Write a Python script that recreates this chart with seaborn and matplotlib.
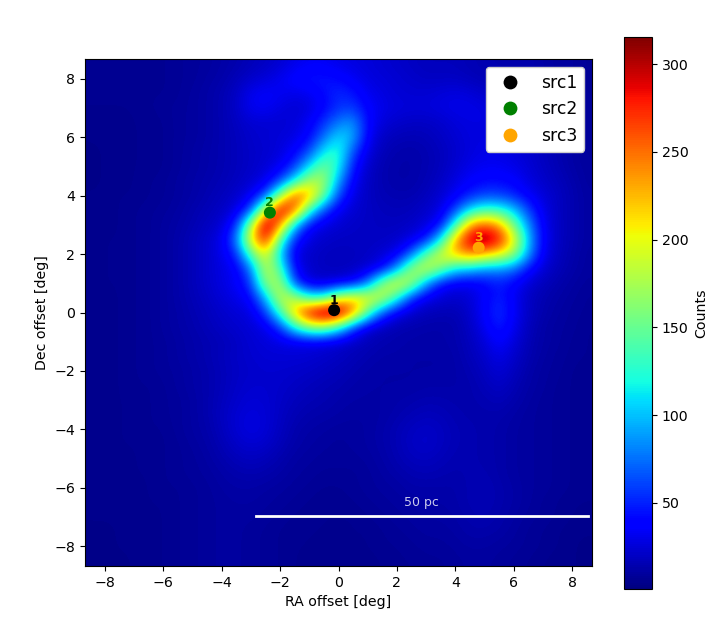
import numpy as np
import pandas as pd
import matplotlib
matplotlib.use("Agg")
import matplotlib.pyplot as plt
import seaborn as sns

# Counts on a 0.5 deg grid; rows run Dec +8.5 .. -8.5, columns RA -8.5 .. +8.5
counts_rows = [
 [6,6,6,6,6,7,8,9,10,12,14,17,20,24,30,34,34,30,28,26,24,22,20,18,18,18,16,15,14,14,14,12,10,10,8],
 [6,6,6,6,6,7,8,9,11,13,17,22,26,32,40,46,46,42,34,28,26,24,22,20,20,20,18,16,16,16,15,13,11,10,8],
 [6,6,6,6,7,7,8,10,12,15,20,32,36,33,30,32,42,52,46,32,28,25,24,24,26,28,26,22,20,18,16,14,12,10,8],
 [6,6,6,6,7,8,9,10,12,15,21,32,34,28,24,27,38,55,58,38,30,27,26,26,28,30,30,28,25,22,19,17,14,11,9],
 [5,5,5,6,6,7,9,10,12,15,19,24,24,24,26,34,55,78,88,40,26,22,20,20,22,26,28,28,26,23,20,17,13,10,9],
 [5,5,5,6,6,7,9,10,12,15,18,22,24,26,28,40,75,110,95,35,20,17,16,17,20,24,27,28,27,25,22,18,15,11,9],
 [4,5,5,6,6,7,9,11,13,15,18,21,23,26,38,62,115,130,62,28,17,14,13,15,18,22,27,30,30,27,23,19,15,12,9],
 [4,5,5,6,6,7,9,11,13,15,18,21,25,32,55,110,155,120,45,22,15,13,13,15,18,24,30,33,33,30,25,20,16,12,10],
 [4,5,5,6,7,8,10,12,14,16,19,23,30,58,115,180,175,90,35,20,15,13,13,16,20,28,36,42,42,38,28,22,18,14,10],
 [5,5,6,6,7,8,10,12,15,18,22,32,62,165,265,235,150,60,28,20,16,15,15,18,24,34,50,60,60,50,36,26,20,15,11],
 [5,5,6,7,8,9,11,14,17,20,28,60,195,305,260,125,60,32,24,20,18,17,18,22,28,60,110,135,130,105,60,30,20,15,11],
 [5,5,6,7,8,10,12,15,19,24,50,170,320,245,100,40,28,24,21,20,19,19,21,26,40,125,235,260,235,155,85,34,20,15,11],
 [5,6,6,7,8,10,13,17,22,30,75,205,290,140,48,27,22,20,20,20,20,22,28,45,110,230,300,320,290,205,100,36,20,15,11],
 [5,6,6,7,8,10,13,17,22,30,50,140,205,105,28,22,19,18,19,20,24,32,70,145,195,225,245,225,205,170,90,32,19,14,10],
 [5,6,6,7,8,10,13,17,22,28,35,75,190,140,38,22,19,18,19,24,36,85,170,195,160,110,100,85,85,75,42,25,17,13,10],
 [5,6,6,7,8,10,13,17,22,28,34,55,165,180,60,26,24,28,36,75,165,205,175,90,42,32,32,38,48,38,25,18,14,11,9],
 [5,5,6,7,8,10,13,16,20,25,30,38,95,190,180,125,125,190,215,205,190,125,52,30,25,22,25,36,50,34,20,15,12,10,8],
 [5,5,6,7,8,10,12,15,18,22,25,28,55,130,225,300,335,325,250,145,65,32,22,18,16,16,22,38,55,36,20,14,11,9,8],
 [5,5,6,7,8,10,12,14,17,20,23,25,30,55,120,165,170,125,60,25,18,15,14,13,13,14,20,32,50,32,18,12,10,9,7],
 [5,5,6,7,8,9,11,13,15,17,20,24,26,28,30,30,28,24,20,17,15,14,13,13,13,14,18,26,38,27,16,12,10,8,7],
 [5,5,6,7,8,9,11,13,15,18,21,23,25,25,25,24,22,20,17,15,13,13,12,12,12,13,17,22,30,22,15,11,9,8,7],
 [5,5,6,7,8,9,10,12,14,17,20,22,23,23,22,21,19,17,15,13,12,12,12,12,12,13,15,19,25,19,13,10,9,7,6],
 [5,5,6,7,7,8,10,12,14,17,21,23,23,22,20,18,16,15,13,12,12,12,12,13,13,13,14,17,21,16,12,10,8,7,6],
 [5,5,6,6,7,8,9,11,14,18,22,25,24,21,18,16,15,13,12,12,12,13,14,15,15,14,14,15,17,14,11,9,8,7,6],
 [5,5,6,6,7,8,9,11,14,19,24,27,25,20,16,14,13,12,11,11,12,14,16,18,17,15,14,14,14,12,10,9,8,7,6],
 [5,5,6,6,7,7,9,11,13,18,24,28,25,19,14,12,11,10,10,11,13,16,19,21,19,16,15,14,13,11,10,9,8,7,6],
 [5,5,6,6,6,7,8,10,12,16,21,24,22,17,13,11,10,9,10,11,13,16,20,22,19,16,15,14,13,11,10,9,8,7,6],
 [5,5,5,6,6,7,8,9,11,14,17,19,17,14,11,10,9,9,9,10,12,15,18,19,17,15,15,14,13,11,10,9,8,7,6],
 [5,5,5,6,6,7,8,9,10,12,14,15,14,12,10,9,8,8,8,9,11,13,15,16,15,14,15,15,13,11,10,9,8,7,6],
 [5,5,5,5,6,7,7,8,9,11,12,12,11,10,9,8,7,7,8,9,10,11,13,13,13,13,15,16,14,12,10,9,8,7,6],
 [5,5,5,5,6,6,7,8,9,10,11,11,10,9,8,7,6,6,7,8,9,10,11,12,12,13,15,16,14,12,10,8,7,6,6],
 [5,5,5,5,5,6,7,8,9,10,10,10,9,8,7,6,6,6,6,7,8,9,10,11,11,12,14,15,13,11,9,8,7,6,5],
 [4,4,5,5,5,6,7,8,9,10,10,9,8,7,6,6,6,5,6,6,7,8,9,10,10,11,13,13,12,10,8,7,6,5,5],
 [4,4,5,5,5,6,7,8,9,10,10,9,8,7,6,6,5,5,5,6,7,7,8,9,9,10,11,11,10,9,8,7,6,5,4],
 [4,4,4,5,5,6,7,8,9,10,10,9,8,7,6,5,5,5,5,5,6,7,7,8,8,9,10,10,9,8,7,6,5,5,4],
]
source_names = ["src1", "src2", "src3"]
source_ra = [-0.15, -2.35, 4.8]
source_dec = [0.08, 3.42, 2.22]
source_labels = ["1", "2", "3"]
source_colors = ["black", "green", "orange"]
tick_values = [-8, -6, -4, -2, 0, 2, 4, 6, 8]
cbar_ticks = [50, 100, 150, 200, 250, 300]
scale_ra = [-2.82, 8.55]
scale_dec = [-6.97, -6.97]

plt.rcParams["font.size"] = 10.2
W, H = 723, 637
fig = plt.figure(figsize=(W / 100, H / 100), dpi=100)
ax = fig.add_axes([85 / W, 1 - 566 / H, 507 / W, 507 / H])
cax = fig.add_axes([624 / W, 1 - 589 / H, 28 / W, 552 / H])

grid = np.array(counts_rows, dtype=float)
im = ax.imshow(grid, cmap="jet", vmin=1, vmax=315.5, extent=(-8.75, 8.75, -8.75, 8.75),
               interpolation="bicubic", origin="upper", aspect="auto")

df = pd.DataFrame({"ra": source_ra, "dec": source_dec, "source": source_names})
sns.scatterplot(data=df, x="ra", y="dec", hue="source", palette=dict(zip(source_names, source_colors)),
                s=75, linewidth=0, ax=ax, zorder=3)
for r, d, t, c in zip(source_ra, source_dec, source_labels, source_colors):
    ax.text(r, d + 0.12, t, color=c, fontsize=9, fontweight="bold", ha="center", va="bottom", zorder=4)

sns.lineplot(x=scale_ra, y=scale_dec, color="white", linewidth=2, ax=ax, legend=False, zorder=3)
ax.text(2.85, -6.72, "50 pc", color="white", alpha=0.8, fontsize=9, ha="center", va="bottom")

ax.set_xlim(-8.68, 8.68)
ax.set_ylim(-8.68, 8.68)
ax.set_xticks(tick_values)
ax.set_yticks(tick_values)
ax.set_xlabel("RA offset [deg]")
ax.set_ylabel("Dec offset [deg]")
ax.legend(loc="upper right", fontsize=12.4, title=None, framealpha=1, markerscale=1.15,
          borderaxespad=0.45)

cb = fig.colorbar(im, cax=cax)
cb.set_ticks(cbar_ticks)
cb.set_label("Counts")

fig.savefig("out.png", dpi=100)
